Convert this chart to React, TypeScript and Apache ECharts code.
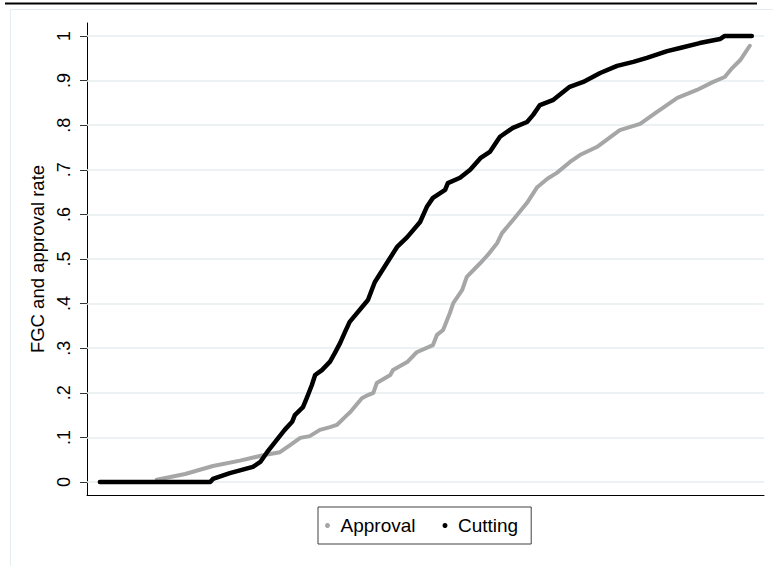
import React, { useEffect, useRef } from "react";
import * as echarts from "echarts";

// x positions are on an unlabelled 0–100 scale (rank of observation)
const cuttingX = [1.9, 9.3, 18.2, 18.6, 21.1, 24.5, 25.6, 26.6, 27.8, 29.2, 30.3, 30.7, 31.9, 32.5, 33.2, 33.7, 34.7, 35.9, 36.6, 37.4, 38.1, 38.8, 41.5, 42.5, 44.3, 45.8, 47.3, 49.2, 50.2, 51.1, 52.9, 53.3, 55.1, 56.6, 58.1, 59.5, 61.0, 62.9, 65.0, 65.9, 66.9, 68.8, 71.3, 73.3, 75.8, 78.3, 80.7, 82.7, 85.7, 87.6, 90.5, 93.5, 94.2, 98.2];
const cuttingY = [0, 0, 0, 0.007, 0.02, 0.034, 0.045, 0.067, 0.09, 0.117, 0.135, 0.15, 0.168, 0.19, 0.217, 0.24, 0.251, 0.27, 0.289, 0.312, 0.336, 0.359, 0.408, 0.448, 0.491, 0.527, 0.549, 0.583, 0.617, 0.637, 0.655, 0.67, 0.682, 0.7, 0.726, 0.74, 0.774, 0.794, 0.807, 0.823, 0.845, 0.856, 0.886, 0.897, 0.917, 0.933, 0.942, 0.951, 0.966, 0.973, 0.984, 0.993, 1.0, 1.0];

const approvalX = [10.3, 14.5, 18.6, 22.6, 26.0, 28.5, 30.0, 31.5, 32.9, 34.4, 35.9, 36.9, 38.4, 38.9, 40.6, 41.5, 42.3, 42.8, 44.8, 45.2, 47.3, 48.7, 51.1, 51.7, 52.6, 53.6, 54.1, 55.4, 56.1, 58.1, 59.2, 60.6, 61.3, 62.9, 65.0, 66.5, 68.0, 69.4, 71.3, 72.8, 75.3, 78.7, 81.7, 84.2, 87.2, 90.1, 92.5, 94.2, 95.3, 96.5, 97.9];
const approvalY = [0.005, 0.018, 0.036, 0.048, 0.06, 0.067, 0.083, 0.099, 0.103, 0.117, 0.123, 0.128, 0.15, 0.157, 0.188, 0.195, 0.2, 0.222, 0.24, 0.251, 0.269, 0.291, 0.307, 0.33, 0.341, 0.379, 0.401, 0.43, 0.46, 0.491, 0.509, 0.536, 0.558, 0.587, 0.626, 0.661, 0.68, 0.693, 0.717, 0.733, 0.751, 0.789, 0.803, 0.83, 0.861, 0.879, 0.897, 0.908, 0.928, 0.946, 0.978];

const yTicks = [0, 0.1, 0.2, 0.3, 0.4, 0.5, 0.6, 0.7, 0.8, 0.9, 1];
const yTickLabels = ["0", ".1", ".2", ".3", ".4", ".5", ".6", ".7", ".8", ".9", "1"];

const FONT = "'Liberation Sans', Arial, sans-serif";

export default function App() {
  const ref = useRef<HTMLDivElement>(null);
  useEffect(() => {
    if (!ref.current) return;
    const chart = echarts.init(ref.current, null, { renderer: "svg" });
    const pair = (xs: number[], ys: number[]) => xs.map((x, i) => [x, ys[i]]);
    chart.setOption({
      animation: false,
      backgroundColor: "#ffffff",
      textStyle: { fontFamily: FONT },
      grid: { left: 87, right: 9, top: 23, bottom: 71, containLabel: false },
      xAxis: {
        type: "value",
        min: 0,
        max: 100,
        axisLine: { show: true, onZero: false, lineStyle: { color: "#000", width: 1 } },
        axisTick: { show: false },
        axisLabel: { show: false },
        splitLine: { show: false },
      },
      yAxis: {
        type: "value",
        min: -0.029,
        max: 1.029,
        name: "FGC and approval rate",
        nameLocation: "middle",
        nameGap: 30,
        nameTextStyle: { fontSize: 18.5, color: "#000", fontFamily: FONT },
        axisLine: { show: true, onZero: false, lineStyle: { color: "#000", width: 1 } },
        axisTick: { show: true, length: 7, customValues: yTicks, lineStyle: { color: "#333" } },
        axisLabel: {
          show: true,
          customValues: yTicks,
          rotate: 90,
          margin: 14,
          fontSize: 18,
          color: "#000",
          fontFamily: FONT,
          formatter: (v: number) => {
            const i = yTicks.findIndex((t) => Math.abs(t - v) < 1e-6);
            return i >= 0 ? yTickLabels[i] : "";
          },
        },
        splitLine: { show: false },
      },
      legend: {
        data: ["Approval", "Cutting"],
        left: 318,
        top: 507,
        orient: "horizontal",
        icon: "circle",
        itemWidth: 16,
        itemHeight: 5,
        itemGap: 27,
        padding: [9, 13, 9, 7],
        borderColor: "#404040",
        borderWidth: 1,
        textStyle: { fontSize: 19, color: "#000", fontFamily: FONT },
      },
      graphic: [
        { type: "line", shape: { x1: 5, y1: 3.5, x2: 757, y2: 3.5 }, style: { stroke: "#000", lineWidth: 2 }, silent: true },
        { type: "rect", shape: { x: 10.5, y: 9.5, width: 800, height: 600 }, style: { stroke: "#e3ecef", fill: "none", lineWidth: 1 }, silent: true },
      ],
      series: [
        {
          name: "grid",
          type: "line",
          data: [],
          z: 1,
          silent: true,
          markLine: {
            z: 1,
            silent: true,
            symbol: ["none", "none"],
            label: { show: false },
            lineStyle: { color: "#e6eef1", type: "solid", width: 1.5 },
            data: yTicks.map((v) => ({ yAxis: v })),
          },
        },
        {
          name: "Approval",
          type: "line",
          z: 2,
          data: pair(approvalX, approvalY),
          showSymbol: false,
          color: "#a6a6a6",
          lineStyle: { color: "#a6a6a6", width: 4, cap: "round", join: "round" },
        },
        {
          name: "Cutting",
          type: "line",
          z: 3,
          data: pair(cuttingX, cuttingY),
          showSymbol: false,
          color: "#000000",
          lineStyle: { color: "#000000", width: 4.5, cap: "round", join: "round" },
        },
      ],
    });
    return () => chart.dispose();
  }, []);
  return <div ref={ref} style={{ position: "fixed", left: 0, top: 0, width: 773, height: 566 }} />;
}
